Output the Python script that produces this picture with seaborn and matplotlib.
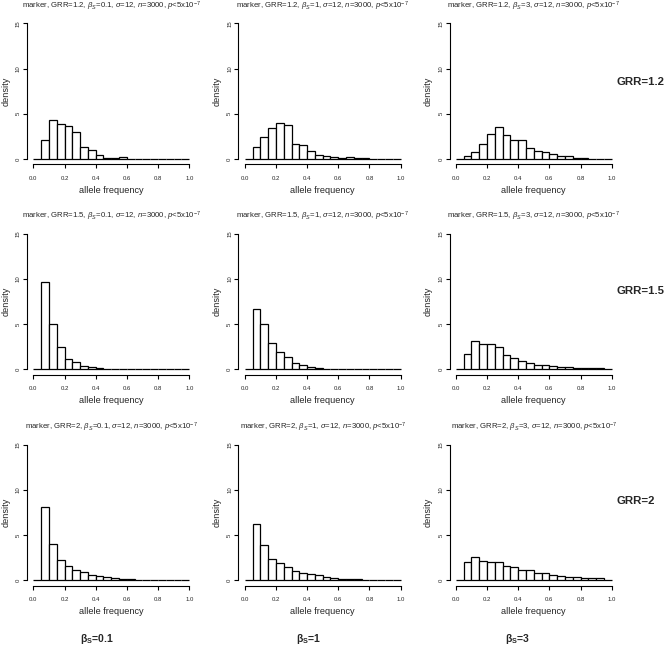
import numpy as np
import pandas as pd
import matplotlib
matplotlib.use("Agg")
import matplotlib.pyplot as plt
import seaborn as sns

# bin edges of the histograms (allele frequency)
edges = [round(0.05 * i, 2) for i in range(21)]
centers = [e + 0.025 for e in edges[:-1]]

grr_labels = ['1.2', '1.5', '2']
beta_labels = ['0.1', '1', '3']

# density per bin
g12_b01 = [0, 2.05, 4.3, 3.87, 3.6, 3.0, 1.3, 0.95, 0.44, 0.07, 0.07, 0.18, 0, 0, 0, 0, 0, 0, 0, 0]
g12_b1 = [0, 1.3, 2.4, 3.4, 4.0, 3.8, 1.65, 1.5, 0.85, 0.44, 0.33, 0.2, 0.12, 0.2, 0.07, 0.1, 0, 0, 0, 0]
g12_b3 = [0, 0.3, 0.75, 1.7, 2.8, 3.5, 2.6, 2.05, 2.05, 1.25, 0.9, 0.75, 0.5, 0.33, 0.3, 0.1, 0.1, 0, 0, 0]
g15_b01 = [0, 9.7, 5.0, 2.45, 1.15, 0.78, 0.4, 0.26, 0.15, 0.07, 0.07, 0, 0, 0, 0, 0, 0, 0, 0, 0]
g15_b1 = [0, 6.7, 5.0, 2.9, 1.95, 1.37, 0.7, 0.48, 0.26, 0.15, 0.07, 0.07, 0, 0, 0, 0, 0, 0, 0, 0]
g15_b3 = [0, 1.67, 3.07, 2.78, 2.74, 2.44, 1.55, 1.22, 0.93, 0.7, 0.52, 0.48, 0.37, 0.26, 0.26, 0.18, 0.1, 0.15, 0.1, 0]
g2_b01 = [0, 8.1, 4.0, 2.3, 1.6, 1.18, 0.9, 0.55, 0.45, 0.37, 0.22, 0.18, 0.1, 0, 0, 0, 0, 0, 0, 0]
g2_b1 = [0, 6.2, 3.9, 2.35, 1.9, 1.45, 1.0, 0.78, 0.67, 0.55, 0.33, 0.26, 0.18, 0.15, 0.1, 0, 0, 0, 0, 0]
g2_b3 = [0, 2.07, 2.55, 2.1, 2.07, 2.0, 1.6, 1.48, 1.1, 1.1, 0.81, 0.81, 0.63, 0.48, 0.33, 0.33, 0.22, 0.22, 0.22, 0]

panels = [[g12_b01, g12_b1, g12_b3],
          [g15_b01, g15_b1, g15_b3],
          [g2_b01, g2_b1, g2_b3]]

sns.set_style("white")
plt.rcParams['font.family'] = ['Liberation Sans', 'DejaVu Sans']
plt.rcParams['mathtext.fontset'] = 'custom'
plt.rcParams['mathtext.rm'] = 'Liberation Sans'
plt.rcParams['mathtext.it'] = 'Liberation Sans:italic'
plt.rcParams['mathtext.bf'] = 'Liberation Sans:bold'

fig = plt.figure(figsize=(6.69, 6.46), dpi=100)

lefts = [0.0405, 0.3565, 0.672]
bottoms = [0.7455, 0.42, 0.0933]
w, h = 0.2517, 0.2268

for r in range(3):
    for c in range(3):
        ax = fig.add_axes([lefts[c], bottoms[r], w, h])
        df = pd.DataFrame({'freq': centers, 'dens': panels[r][c]})
        sns.histplot(data=df, x='freq', weights='dens', bins=edges, stat='count',
                     color='white', edgecolor='black', linewidth=0.9, alpha=1, ax=ax)
        ax.set_xlim(-0.04, 1.04)
        ax.set_ylim(-0.6, 15.6)
        for s in ['top', 'right']:
            ax.spines[s].set_visible(False)
        ax.spines['bottom'].set_bounds(0, 1)
        ax.spines['left'].set_bounds(0, 15)
        for s in ['bottom', 'left']:
            ax.spines[s].set_color('black')
            ax.spines[s].set_linewidth(0.8)
        ax.set_xticks(np.arange(0, 1.01, 0.2))
        ax.set_xticklabels(['0.0', '0.2', '0.4', '0.6', '0.8', '1.0'])
        ax.set_yticks([0, 5, 10, 15])
        ax.tick_params(axis='both', direction='out', length=3, width=0.8,
                       labelsize=4.3, bottom=True, left=True, color='black')
        ax.tick_params(axis='x', pad=5)
        ax.tick_params(axis='y', pad=1.5)
        plt.setp(ax.get_yticklabels(), rotation=90, va='center')
        ax.set_xlabel('allele frequency', fontsize=6.6, labelpad=4)
        ax.set_ylabel('density', fontsize=6.6, labelpad=4)
        ax.set_title('marker, GRR=%s, $\\beta_S$=%s, $\\sigma$=12, $n$=3000, $p$<5x10$^{-7}$'
                     % (grr_labels[r], beta_labels[c]), fontsize=5.6, pad=7)

# row labels on the right
row_y = [1 - 82 / 646, 1 - 291 / 646, 1 - 501 / 646]
for r in range(3):
    fig.text(0.922, row_y[r], 'GRR=' + grr_labels[r], fontsize=8.2,
             fontweight='bold', ha='left', va='center')

# column labels at the bottom
col_x = [97 / 669, 309 / 669, 518 / 669]
for c in range(3):
    fig.text(col_x[c], 1 - 639 / 646, '$\\mathbf{\\beta_S}$=' + beta_labels[c],
             fontsize=7.5, fontweight='bold', ha='center', va='center')

fig.savefig('out.png', dpi=100)
